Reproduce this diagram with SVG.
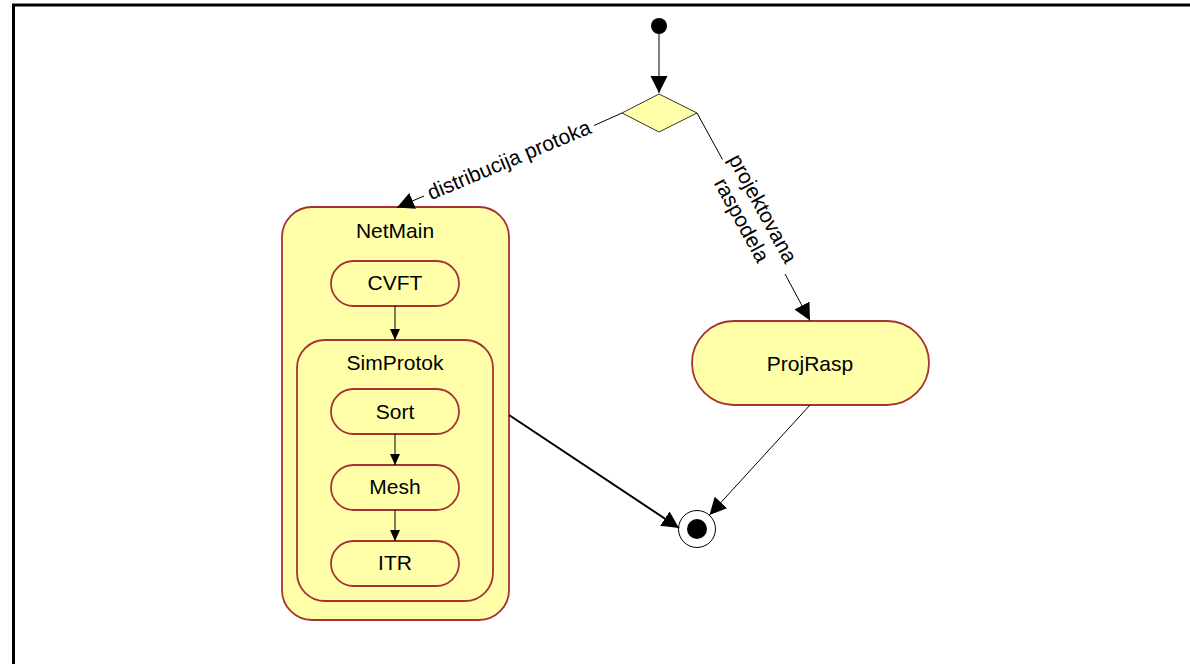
<svg xmlns="http://www.w3.org/2000/svg" width="1190" height="664" viewBox="0 0 1190 664">
<style>
.st{fill:#ffffaa;stroke:#a83232;stroke-width:1.8}
.tx{font-family:"Liberation Sans",Arial,sans-serif;font-size:21px;fill:#000;text-anchor:middle}
.ed{fill:none;stroke:#000;stroke-width:1}
</style>
<defs>
<marker id="big" markerUnits="userSpaceOnUse" markerWidth="18" markerHeight="18" refX="17" refY="8.5" orient="auto" viewBox="0 0 18 18">
<path d="M0,0 L17,8.5 L0,17 z" fill="#000"/>
</marker>
<marker id="small" markerUnits="userSpaceOnUse" markerWidth="12" markerHeight="12" refX="11" refY="5" orient="auto" viewBox="0 0 12 12">
<path d="M0,0 L11,5 L0,10 z" fill="#000"/>
</marker>
</defs>
<rect width="1190" height="664" fill="#fff"/>
<path d="M13.5,664 V5 H1190" fill="none" stroke="#000" stroke-width="3"/>

<g id="start"><circle cx="659" cy="26" r="8" fill="#000"/></g>
<g id="decision"><polygon points="659,94 697,113 659,132 622,113" fill="#ffffaa" stroke="#000" stroke-width="0.8"/></g>

<g id="NetMain">
<rect class="st" x="282" y="207" width="227" height="413" rx="30" ry="30"/>
<text class="tx" x="395" y="238">NetMain</text>
</g>
<g id="CVFT">
<rect class="st" x="331" y="261" width="128" height="45" rx="22.5" ry="22.5"/>
<text class="tx" x="395" y="290">CVFT</text>
</g>
<g id="SimProtok">
<rect class="st" x="297" y="340" width="196" height="261" rx="28" ry="28"/>
<text class="tx" x="395" y="370">SimProtok</text>
</g>
<g id="Sort">
<rect class="st" x="331" y="389" width="128" height="45" rx="22.5" ry="22.5"/>
<text class="tx" x="395" y="419">Sort</text>
</g>
<g id="Mesh">
<rect class="st" x="331" y="465" width="128" height="45" rx="22.5" ry="22.5"/>
<text class="tx" x="395" y="494">Mesh</text>
</g>
<g id="ITR">
<rect class="st" x="331" y="541" width="128" height="45" rx="22.5" ry="22.5"/>
<text class="tx" x="395" y="570">ITR</text>
</g>
<g id="ProjRasp">
<rect class="st" x="692" y="321" width="237" height="84" rx="42" ry="42"/>
<text class="tx" x="810" y="371">ProjRasp</text>
</g>
<g id="final">
<circle cx="697" cy="529" r="18.5" fill="#fff" stroke="#000" stroke-width="1"/>
<circle cx="697" cy="529" r="10" fill="#000"/>
</g>

<g id="connectors">
<path class="ed" d="M659,34 V93" marker-end="url(#big)"/>
<path class="ed" d="M622,113 L594,125.5"/>
<path class="ed" d="M424,196 L397,207.5" marker-end="url(#big)"/>
<text class="tx" transform="translate(509,160) rotate(-22.7)" y="7">distribucija protoka</text>
<path class="ed" d="M697,113 L722.5,159.5"/>
<path class="ed" d="M785,274 L810,320.5" marker-end="url(#big)"/>
<g transform="translate(754.5,216.5) rotate(61.5)">
<text class="tx" x="-3" y="-4">projektovana</text>
<text class="tx" x="-3" y="20">raspodela</text>
</g>
<path class="ed" d="M395,306 V340" marker-end="url(#small)"/>
<path class="ed" d="M395,434 V465" marker-end="url(#small)"/>
<path class="ed" d="M395,510 V541" marker-end="url(#small)"/>
<path d="M509,415 L679,528" fill="none" stroke="#000" stroke-width="2" marker-end="url(#big)"/>
<path class="ed" d="M810,405 L709.5,515" marker-end="url(#big)"/>
</g>
</svg>
